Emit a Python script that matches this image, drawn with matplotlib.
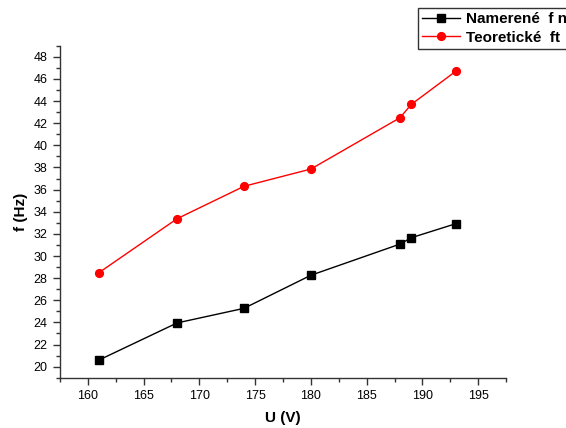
import numpy as np
import matplotlib
matplotlib.use('Agg')
from matplotlib import pyplot as plt
from matplotlib.ticker import MultipleLocator

plt.rcParams['font.family'] = ['Liberation Sans', 'DejaVu Sans']

# measured data
u_volt = [161, 168, 174, 180, 188, 189, 193]
f_namerane = [20.6, 23.95, 25.27, 28.26, 31.08, 31.65, 32.92]
f_teoreticke = [28.5, 33.37, 36.3, 37.86, 42.5, 43.7, 46.7]

fig = plt.figure(figsize=(5.66, 4.28), dpi=100)
ax = fig.add_axes([0.106, 0.1175, 0.788, 0.7755])

ax.plot(u_volt, f_namerane, color='k', lw=1, marker='s', ms=5.2, label='Namerené  f n')
ax.plot(u_volt, f_teoreticke, color='red', lw=1, marker='o', ms=5.6, label='Teoretické  ft')

ax.set_xlim(157.5, 197.5)
ax.set_ylim(19, 49)
ax.xaxis.set_major_locator(MultipleLocator(5))
ax.xaxis.set_minor_locator(MultipleLocator(2.5))
ax.yaxis.set_major_locator(MultipleLocator(2))
ax.yaxis.set_minor_locator(MultipleLocator(1))

for s in ['top', 'right']:
    ax.spines[s].set_visible(False)
for s in ['left', 'bottom']:
    ax.spines[s].set_color('#333333')
    ax.spines[s].set_linewidth(1)
ax.tick_params(which='major', length=5, width=1, color='#333333', labelsize=9, pad=4)
ax.tick_params(which='minor', length=3, width=1, color='#333333')

ax.set_xlabel('U (V)', fontsize=11, fontweight='bold', labelpad=6)
ax.set_ylabel('f (Hz)', fontsize=11, fontweight='bold', labelpad=4)

leg = fig.legend(loc='upper left', bbox_to_anchor=(417.7 / 566, 1 - 8.3 / 428),
                 fancybox=False, framealpha=1, edgecolor='#333333',
                 prop={'weight': 'bold', 'size': 11}, handlelength=2.5,
                 handletextpad=0.4, borderpad=0.25, labelspacing=0.3, borderaxespad=0)
leg.get_frame().set_linewidth(1)

plt.savefig('out.png', dpi=100)
plt.close()
